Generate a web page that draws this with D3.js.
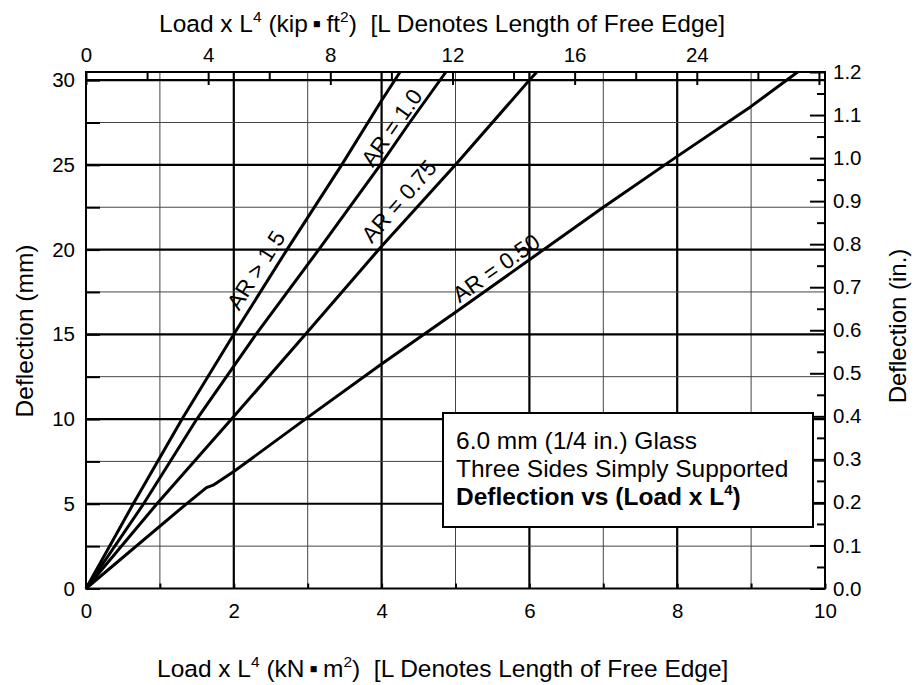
<!DOCTYPE html>
<html>
<head>
<meta charset="utf-8">
<script src="https://cdn.jsdelivr.net/npm/d3@7"></script>
<style>
  html, body { margin: 0; padding: 0; background: #fff; }
  svg { display: block; font-family: "Liberation Sans", Arial, Helvetica, sans-serif; }
  text { white-space: pre; }
</style>
</head>
<body>
<svg id="chart" width="914" height="685"></svg>
<script>
// ---------- data ----------
const seriesNames = ["AR > 1.5", "AR = 1.0", "AR = 0.75", "AR = 0.50"];
// load x L^4 (kN·m²) and deflection (mm)
const arOver15 = [[0,0],[0.64,5],[1.30,10],[2.00,15],[2.72,20],[3.46,25],[4.00,28.8],[4.25,30.48]];
const ar10     = [[0,0],[0.78,5],[1.50,10],[2.30,15],[3.15,20],[4.00,25.1],[4.38,27.5],[4.87,30.48]];
const ar075    = [[0,0],[0.96,5],[1.97,10],[2.97,15],[4.00,20.2],[5.00,25],[6.00,30],[6.10,30.48]];
const ar050    = [[0,0],[1.36,5],[1.63,5.95],[1.72,6.1],[2.00,6.9],[3.00,10.1],[4.00,13.25],[5.00,16.3],[6.00,19.4],[7.00,22.5],[8.00,25.5],[9.00,28.45],[9.63,30.48]];
const seriesValues = [arOver15, ar10, ar075, ar050];

const bottomTicks = [0,1,2,3,4,5,6,7,8,9,10];
const bottomLabels = ["0","","2","","4","","6","","8","","10"];
const topMajorTicks = [0,4,8,12,16,20,24];
const topMajorLabels = ["0","4","8","12","16","24",""];
const topMinorTicks = [2,6,10,14,18,22];
const leftTicks = [0,2.5,5,7.5,10,12.5,15,17.5,20,22.5,25,27.5,30];
const rightMajorTicks = [0,0.1,0.2,0.3,0.4,0.5,0.6,0.7,0.8,0.9,1.0,1.1,1.2];
const rightMinorTicks = [0.05,0.15,0.25,0.35,0.45,0.55,0.65,0.75,0.85,0.95,1.05,1.15];
const gridX = [1,2,3,4,5,6,7,8,9];
const gridY = [2.5,5,7.5,10,12.5,15,17.5,20,22.5,25,27.5,30];

const boxLines = ["6.0 mm (1/4 in.) Glass", "Three Sides Simply Supported"];

// ---------- layout ----------
const svg = d3.select("#chart");
const L = 86, R = 825, T = 72, B = 588.5;
const KN_TO_KIP = 2.41983;   // kN·m² -> kip·ft²
const MM_PER_IN = 25.4;
const x = d3.scaleLinear().domain([0,10]).range([L,R]);
const y = d3.scaleLinear().domain([0,1.2*MM_PER_IN]).range([B,T]);
const xTop = d3.scaleLinear().domain([0,10*KN_TO_KIP]).range([L,R]);
const yRight = d3.scaleLinear().domain([0,1.2]).range([B,T]);
const BIG = 24.5, TICK = 20.5;

// gridlines
const g = svg.append("g");
g.selectAll("line.gx").data(gridX).join("line")
  .attr("x1", d=>x(d)).attr("x2", d=>x(d)).attr("y1", T).attr("y2", B)
  .attr("stroke", d=> d%2===0 ? "#000" : "#444")
  .attr("stroke-width", d=> d%2===0 ? 2.2 : 1);
g.selectAll("line.gy").data(gridY).join("line")
  .attr("x1", L).attr("x2", R).attr("y1", d=>y(d)).attr("y2", d=>y(d))
  .attr("stroke", d=> d%5===0 ? "#000" : "#444")
  .attr("stroke-width", d=> d%5===0 ? 2.2 : 1);

// axes
function styleAxis(sel, fs) {
  sel.select(".domain").remove();
  sel.selectAll(".tick line").attr("stroke","#000").attr("stroke-width",2);
  sel.selectAll(".tick text").attr("fill","#000").style("font-size", fs+"px")
     .style("font-family", '"Liberation Sans", Arial, sans-serif');
}
svg.append("g").attr("transform",`translate(0,${B})`)
  .call(d3.axisBottom(x).tickValues(bottomTicks).tickFormat((d,i)=>bottomLabels[i]).tickSizeInner(-5).tickSizeOuter(0).tickPadding(15))
  .call(s=>styleAxis(s,TICK));
svg.append("g").attr("transform",`translate(0,${T})`)
  .call(d3.axisTop(xTop).tickValues(topMajorTicks).tickFormat((d,i)=>topMajorLabels[i]).tickSizeInner(-13).tickSizeOuter(0).tickPadding(10))
  .call(s=>styleAxis(s,TICK));
svg.append("g").attr("transform",`translate(0,${T})`)
  .call(d3.axisTop(xTop).tickValues(topMinorTicks).tickFormat("").tickSizeInner(-8).tickSizeOuter(0))
  .call(s=>styleAxis(s,TICK));
svg.append("g").attr("transform",`translate(${L},0)`)
  .call(d3.axisLeft(y).tickValues(leftTicks).tickFormat(d=> d%5===0 ? d3.format("d")(d) : "").tickSizeInner(-14).tickSizeOuter(0).tickPadding(11))
  .call(s=>styleAxis(s,TICK));
svg.append("g").attr("transform",`translate(${R},0)`)
  .call(d3.axisRight(yRight).tickValues(rightMajorTicks).tickFormat(d3.format(".1f")).tickSizeInner(-15).tickSizeOuter(0).tickPadding(8))
  .call(s=>styleAxis(s,TICK));
svg.append("g").attr("transform",`translate(${R},0)`)
  .call(d3.axisRight(yRight).tickValues(rightMinorTicks).tickFormat("").tickSizeInner(-8).tickSizeOuter(0))
  .call(s=>styleAxis(s,TICK));

// frame
svg.append("rect").attr("x",L).attr("y",T).attr("width",R-L).attr("height",B-T)
  .attr("fill","none").attr("stroke","#000").attr("stroke-width",2);

// series lines
const line = d3.line().x(d=>x(d[0])).y(d=>y(d[1]));
svg.append("g").selectAll("path").data(seriesValues).join("path")
  .attr("d", line).attr("fill","none").attr("stroke","#000")
  .attr("stroke-width",3).attr("stroke-linejoin","round");

// series labels (data position of label centre + angle)
const labelPos = [[2.30,18.79,57.5],[4.137,27.2,54.8],[4.235,22.86,48.9],[5.548,18.91,35.3]];
svg.append("g").selectAll("text").data(seriesNames).join("text")
  .attr("transform",(d,i)=>`translate(${x(labelPos[i][0])},${y(labelPos[i][1])}) rotate(${-labelPos[i][2]})`)
  .attr("text-anchor","middle").attr("dy","0.35em")
  .style("font-size","22.5px").attr("fill","#000").text(d=>d);

// info box
const bx = 443, by = 413, bw = 370, bh = 114;
svg.append("rect").attr("x",bx).attr("y",by).attr("width",bw).attr("height",bh)
  .attr("fill","#fff").attr("stroke","#000").attr("stroke-width",2);
svg.append("g").selectAll("text").data(boxLines).join("text")
  .attr("x",bx+13).attr("y",(d,i)=>by+36+i*27.5)
  .style("font-size",BIG+"px").attr("fill","#000").text(d=>d);
const t3 = svg.append("text").attr("x",bx+13).attr("y",by+92)
  .style("font-size",BIG+"px").style("font-weight","bold").attr("fill","#000");
t3.append("tspan").text("Deflection vs (Load x L");
t3.append("tspan").attr("dy",-10).style("font-size","15px").text("4");
t3.append("tspan").attr("dy",10).text(")");

// axis titles
function titleWithSup(sel, parts) {
  parts.forEach(p=>{
    const ts = sel.append("tspan").text(p.t);
    if (p.sup) ts.attr("dy",-10).style("font-size","15.5px");
    if (p.down) ts.attr("dy",10);
  });
}
const topTitle = svg.append("text").attr("x",159).attr("y",32).style("font-size",BIG+"px").attr("fill","#000");
titleWithSup(topTitle,[{t:"Load x L"},{t:"4",sup:true},{t:" (kip\u2009\u25AA\u2009ft",down:true},{t:"2",sup:true},{t:")  [L Denotes Length of Free Edge]",down:true}]);
const botTitle = svg.append("text").attr("x",157).attr("y",677).style("font-size",BIG+"px").attr("fill","#000");
titleWithSup(botTitle,[{t:"Load x L"},{t:"4",sup:true},{t:" (kN\u2009\u25AA\u2009m",down:true},{t:"2",sup:true},{t:")  [L Denotes Length of Free Edge]",down:true}]);

svg.append("text").attr("transform",`translate(33,331) rotate(-90)`)
  .attr("text-anchor","middle").style("font-size",BIG+"px").attr("fill","#000").text("Deflection (mm)");
svg.append("text").attr("transform",`translate(906,326) rotate(-90)`)
  .attr("text-anchor","middle").style("font-size","24px").attr("fill","#000").text("Deflection (in.)");
</script>
</body>
</html>
